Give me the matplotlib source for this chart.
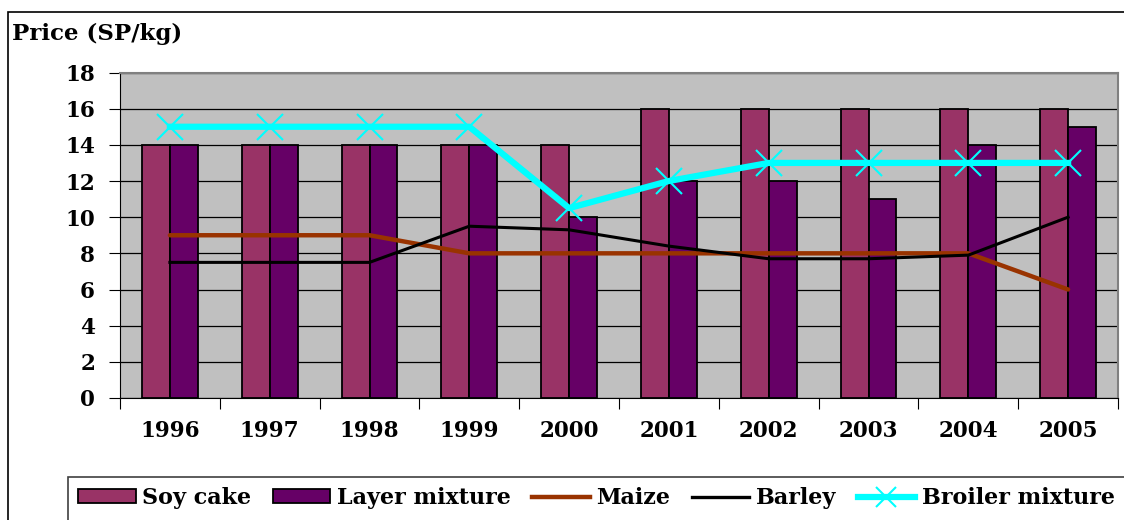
import numpy as np
import matplotlib.pyplot as plt
from matplotlib.patches import Rectangle, Patch
from matplotlib.lines import Line2D

# feed prices, SP/kg
years = ['1996', '1997', '1998', '1999', '2000', '2001', '2002', '2003', '2004', '2005']
soy_cake = [14, 14, 14, 14, 14, 16, 16, 16, 16, 16]
layer_mix = [14, 14, 14, 14, 10, 12, 12, 11, 14, 15]
maize = [9, 9, 9, 8, 8, 8, 8, 8, 8, 6]
barley = [7.5, 7.5, 7.5, 9.5, 9.3, 8.4, 7.7, 7.7, 7.9, 10]
broiler_mix = [15, 15, 15, 15, 10.5, 12, 13, 13, 13, 13]

plt.rcParams['font.family'] = 'DejaVu Serif'
plt.rcParams['font.weight'] = 'bold'
fs = 15.5

fig = plt.figure(figsize=(11.24, 5.2), dpi=100)
ax = fig.add_axes([120/1124, 1-398/520, 998/1124, 325.5/520])
ax.set_facecolor('#c0c0c0')

x = np.arange(len(years))
w = 0.28
ax.bar(x - w/2, soy_cake, w, color='#993366', edgecolor='black', linewidth=1.3, zorder=2)
ax.bar(x + w/2, layer_mix, w, color='#660066', edgecolor='black', linewidth=1.3, zorder=2)
ax.plot(x, maize, color='#993300', lw=3.2, zorder=3, solid_capstyle='round')
ax.plot(x, barley, color='black', lw=2.2, zorder=3)
ax.plot(x, broiler_mix, color='#00ffff', lw=4.5, marker='x', ms=19, mew=1.5, zorder=4)

ax.set_xlim(-0.5, 9.5)
ax.set_ylim(0, 18)
ax.set_yticks(range(0, 19, 2))
ax.yaxis.grid(True, color='black', lw=0.9, zorder=1)
ax.set_axisbelow(True)

# ticks between categories, labels centered under each year
ax.set_xticks(np.arange(-0.5, 10, 1))
ax.set_xticklabels([])
ax.set_xticks(x, minor=True)
ax.set_xticklabels(years, minor=True, fontsize=fs)
ax.tick_params(axis='x', which='major', length=8, direction='out')
ax.tick_params(axis='x', which='minor', length=0, pad=16)
ax.tick_params(axis='y', length=8, direction='out', labelsize=fs, pad=10)

for s in ['top', 'right']:
    ax.spines[s].set_color('#808080')
    ax.spines[s].set_linewidth(1.5)

fig.text(12/1124, 1-34/520, 'Price (SP/kg)', fontsize=16.5, va='center', ha='left')

# outer chart border and legend box
fig.patches.append(Rectangle((8/1124, -0.1), 1.2, 1.1-12/520, transform=fig.transFigure,
                             fill=False, edgecolor='black', lw=1.2))
fig.patches.append(Rectangle((68/1124, -0.1), 1.2, 0.1+1-477/520, transform=fig.transFigure,
                             fill=False, edgecolor='#404040', lw=1.2))

handles = [
    Patch(facecolor='#993366', edgecolor='black', lw=1.3),
    Patch(facecolor='#660066', edgecolor='black', lw=1.3),
    Line2D([], [], color='#993300', lw=3.2),
    Line2D([], [], color='black', lw=2.4),
    Line2D([], [], color='#00ffff', lw=4.5, marker='x', ms=14, mew=1.5),
]
labels = ['Soy cake', 'Layer mixture', 'Maize', 'Barley', 'Broiler mixture']
fig.legend(handles, labels, loc='center left', bbox_to_anchor=(78/1124, 1-498/520),
           ncol=5, frameon=False, fontsize=16, handlelength=2.6, handleheight=0.6,
           handletextpad=0.3, columnspacing=0.95, borderaxespad=0, borderpad=0)

fig.savefig('out.png', dpi=100)
